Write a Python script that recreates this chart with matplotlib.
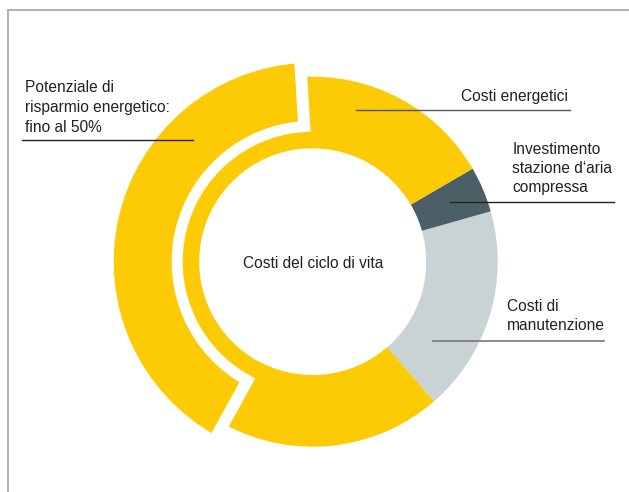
import numpy as np
import matplotlib.pyplot as plt
from matplotlib.patches import Wedge

plt.rcParams["font.family"] = ["Liberation Sans", "DejaVu Sans"]

# life cycle cost shares (% of total), counter-clockwise from start_deg
segments = ["Costi di manutenzione", "Investimento stazione d'aria compressa", "Costi energetici"]
shares = [18, 4, 78]
colors = ["#c9d3d6", "#4d5f66", "#fccb05"]
# energy costs split: kept / saving potential (exploded) / kept
energy_split = [17.6, 41.0, 19.4]
start_deg = -49

W, H = 629, 492
cx, cy = 312.7, H - 261.7
r_hole, r_out = 113.5, 185
r_thin = 130
r_exp_in, r_exp_out = 141, 199

fig = plt.figure(figsize=(W / 100, H / 100), dpi=100)
ax = fig.add_axes([0, 0, 1, 1])
ax.set_xlim(0, W)
ax.set_ylim(0, H)
ax.axis("off")

# frame lines top / left
ax.plot([8, W], [H - 10, H - 10], color="#b0b0b0", lw=1.4)
ax.plot([8, 8], [0, H - 10], color="#b0b0b0", lw=1.4)

deg = 360 / sum(shares)
a = start_deg
for s, c in zip(shares[:2], colors[:2]):
    ax.add_patch(Wedge((cx, cy), r_out, a, a + s * deg, width=r_out - r_hole, color=c, lw=0))
    a += s * deg

# energy costs: full thin inner ring, outer part split
e0 = a
e1 = e0 + energy_split[0] * deg
e2 = e1 + energy_split[1] * deg
e3 = e2 + energy_split[2] * deg
yellow = colors[2]
ax.add_patch(Wedge((cx, cy), r_thin, e0, e3, width=r_thin - r_hole, color=yellow, lw=0))
ax.add_patch(Wedge((cx, cy), r_out, e0, e1, width=r_out - r_hole, color=yellow, lw=0))
ax.add_patch(Wedge((cx, cy), r_out, e2, e3, width=r_out - r_hole, color=yellow, lw=0))
ax.add_patch(Wedge((cx, cy), r_exp_out, e1, e2, width=r_exp_out - r_exp_in, color=yellow, lw=0))

# white cuts between exploded arc and ring
for ang in (e1, e2):
    t = np.radians(ang)
    ax.plot([cx + r_thin * np.cos(t), cx + 210 * np.cos(t)],
            [cy + r_thin * np.sin(t), cy + 210 * np.sin(t)],
            color="white", lw=12 * 0.72, solid_capstyle="butt")

fs = 11.2
tc = "#222222"
ax.text(cx, cy - 1.5, "Costi del ciclo di vita", ha="center", va="center", fontsize=fs, color=tc)

def y(p):
    return H - p

# labels and leader lines (va=baseline -> last line)
ax.text(25, y(131.7), "Potenziale di\nrisparmio energetico:\nfino al 50%", ha="left", va="baseline",
        fontsize=fs, color=tc, linespacing=1.4)
ax.plot([22, 193], [y(140), y(140)], color="#222222", lw=1)

ax.text(568, y(100.7), "Costi energetici", ha="right", va="baseline", fontsize=fs, color=tc)
ax.plot([356, 570], [y(110), y(110)], color="#555555", lw=1)

ax.text(512.5, y(191.7), "Investimento\nstazione d\u2018aria\ncompressa", ha="left", va="baseline",
        fontsize=fs, color=tc, linespacing=1.32)
ax.plot([450, 614], [y(202.3), y(202.3)], color="#222222", lw=1)

ax.text(507, y(330), "Costi di\nmanutenzione", ha="left", va="baseline", fontsize=fs, color=tc,
        linespacing=1.32)
ax.plot([433, 604], [y(340.7), y(340.7)], color="#777777", lw=1.2)

fig.savefig("out.png", dpi=100)
